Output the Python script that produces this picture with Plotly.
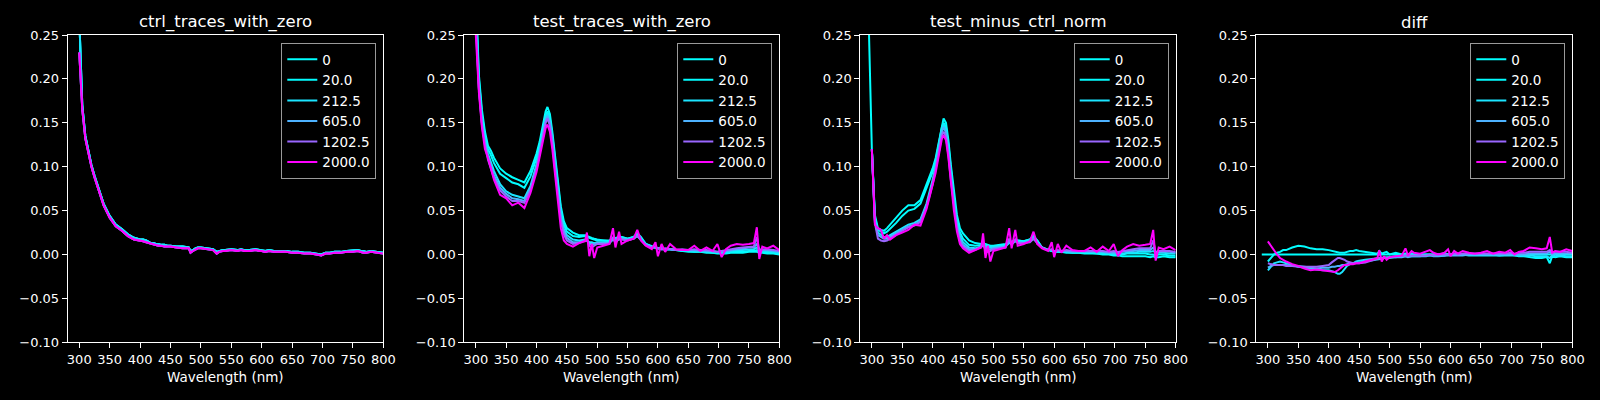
import plotly.graph_objects as go
from plotly.subplots import make_subplots

# wavelength grid (nm) shared by all panels
WL = [290, 295, 300, 305, 310, 315, 320, 325, 330, 340,
      350, 360, 370, 380, 390, 400, 405, 410, 415, 418,
      422, 426, 430, 435, 440, 445, 450, 460, 470, 480,
      483, 487, 491, 495, 500, 510, 520, 526, 530, 536,
      540, 550, 560, 566, 572, 580, 590, 596, 600, 606,
      612, 620, 630, 640, 650, 660, 670, 680, 690, 698,
      705, 712, 720, 730, 740, 750, 758, 763, 767, 772,
      780, 790, 800]

LABELS = ["0", "20.0", "212.5", "605.0", "1202.5", "2000.0"]
# matplotlib "cool" colormap sampled at concentration / 2000
COLORS = ["#00ffff", "#03fcff", "#1be4ff", "#4db2ff", "#9966ff", "#ff00ff"]
TITLES = ["ctrl_traces_with_zero", "test_traces_with_zero",
          "test_minus_ctrl_norm", "diff"]

# ctrl traces (low concentrations / high concentrations nearly overlap)
CTRL_HI = [None, None, 0.27, 0.170, 0.135, 0.118, 0.102, 0.090, 0.079, 0.058,
           0.044, 0.034, 0.029, 0.023, 0.019, 0.017, 0.017, 0.016, 0.014, 0.013,
           0.013, 0.012, 0.012, 0.011, 0.011, 0.010, 0.010, 0.009, 0.009, 0.008,
           0.004, 0.005, 0.007, 0.008, 0.008, 0.007, 0.006, 0.003, 0.004, 0.005,
           0.005, 0.006, 0.005, 0.006, 0.005, 0.005, 0.006, 0.005, 0.005, 0.004,
           0.005, 0.004, 0.004, 0.004, 0.003, 0.003, 0.002, 0.002, 0.001, 0.000,
           0.002, 0.002, 0.003, 0.003, 0.004, 0.005, 0.005, 0.004, 0.004, 0.003,
           0.004, 0.003, 0.002]
CTRL_LO = [None, None, 0.230, 0.165, 0.132, 0.115, 0.100, 0.088, 0.077, 0.056,
           0.042, 0.032, 0.027, 0.021, 0.017, 0.016, 0.015, 0.014, 0.013, 0.012,
           0.011, 0.011, 0.010, 0.010, 0.009, 0.009, 0.009, 0.008, 0.007, 0.007,
           0.002, 0.004, 0.006, 0.007, 0.007, 0.006, 0.005, 0.001, 0.003, 0.004,
           0.004, 0.005, 0.004, 0.005, 0.004, 0.004, 0.005, 0.004, 0.004, 0.003,
           0.004, 0.003, 0.003, 0.003, 0.002, 0.002, 0.001, 0.001, 0.000, -0.001,
           0.001, 0.001, 0.002, 0.002, 0.003, 0.003, 0.004, 0.003, 0.002, 0.002,
           0.003, 0.002, 0.001]

# test traces
TEST_0 = [None, None, 0.30, 0.205, 0.165, 0.140, 0.124, 0.118, 0.110, 0.098,
          0.092, 0.088, 0.085, 0.082, 0.095, 0.115, 0.128, 0.145, 0.163, 0.168,
          0.160, 0.140, 0.115, 0.085, 0.055, 0.038, 0.030, 0.025, 0.022, 0.022,
          0.021, 0.020, 0.019, 0.018, 0.017, 0.016, 0.016, 0.018, 0.019, 0.020,
          0.020, 0.018, 0.020, 0.024, 0.020, 0.012, 0.009, 0.008, 0.007, 0.007,
          0.006, 0.006, 0.005, 0.004, 0.003, 0.003, 0.003, 0.002, 0.002, 0.001,
          0.001, 0.001, 0.002, 0.002, 0.002, 0.003, 0.003, 0.003, 0.002, 0.002,
          0.001, 0.001, 0.000]
TEST_20 = [None, None, 0.29, 0.200, 0.160, 0.136, 0.120, 0.113, 0.104, 0.092,
           0.087, 0.082, 0.080, 0.076, 0.089, 0.110, 0.124, 0.141, 0.159, 0.163,
           0.155, 0.136, 0.111, 0.081, 0.051, 0.034, 0.026, 0.021, 0.020, 0.021,
           0.020, 0.019, 0.018, 0.017, 0.016, 0.016, 0.015, 0.018, 0.018, 0.019,
           0.020, 0.018, 0.020, 0.023, 0.019, 0.012, 0.009, 0.008, 0.007, 0.007,
           0.006, 0.006, 0.005, 0.004, 0.004, 0.003, 0.003, 0.003, 0.002, 0.002,
           0.002, 0.002, 0.003, 0.003, 0.003, 0.004, 0.004, 0.005, 0.003, 0.003,
           0.002, 0.002, 0.001]
TEST_212 = [None, None, 0.28, 0.195, 0.155, 0.130, 0.115, 0.105, 0.095, 0.080,
            0.072, 0.068, 0.066, 0.064, 0.078, 0.103, 0.119, 0.138, 0.156, 0.160,
            0.152, 0.132, 0.106, 0.076, 0.045, 0.029, 0.022, 0.017, 0.016, 0.017,
            0.016, 0.014, 0.014, 0.013, 0.014, 0.014, 0.014, 0.017, 0.016, 0.018,
            0.019, 0.017, 0.019, 0.022, 0.018, 0.011, 0.008, 0.008, 0.007, 0.006,
            0.006, 0.006, 0.005, 0.005, 0.004, 0.004, 0.004, 0.003, 0.003, 0.003,
            0.003, 0.003, 0.004, 0.005, 0.005, 0.006, 0.006, 0.008, 0.005, 0.004,
            0.004, 0.003, 0.002]
TEST_605 = [None, None, 0.27, 0.190, 0.150, 0.127, 0.112, 0.100, 0.090, 0.076,
            0.069, 0.064, 0.063, 0.061, 0.075, 0.100, 0.116, 0.135, 0.153, 0.158,
            0.150, 0.130, 0.103, 0.073, 0.042, 0.026, 0.019, 0.014, 0.014, 0.016,
            0.016, 0.012, 0.012, 0.012, 0.013, 0.013, 0.013, 0.017, 0.015, 0.017,
            0.018, 0.017, 0.018, 0.021, 0.017, 0.011, 0.008, 0.008, 0.007, 0.006,
            0.006, 0.006, 0.005, 0.005, 0.005, 0.005, 0.004, 0.004, 0.004, 0.003,
            0.004, 0.004, 0.005, 0.006, 0.007, 0.008, 0.008, 0.012, 0.006, 0.005,
            0.005, 0.004, 0.003]
TEST_1202 = [None, None, 0.26, 0.188, 0.148, 0.125, 0.108, 0.097, 0.087, 0.073,
             0.066, 0.061, 0.061, 0.059, 0.073, 0.097, 0.113, 0.132, 0.150, 0.155,
             0.147, 0.127, 0.100, 0.070, 0.039, 0.023, 0.016, 0.012, 0.013, 0.016,
             0.018, 0.010, 0.008, 0.010, 0.012, 0.012, 0.012, 0.020, 0.013, 0.019,
             0.017, 0.016, 0.018, 0.021, 0.017, 0.011, 0.008, 0.009, 0.007, 0.006,
             0.007, 0.006, 0.005, 0.006, 0.005, 0.006, 0.005, 0.005, 0.004, 0.003,
             0.004, 0.005, 0.006, 0.007, 0.008, 0.009, 0.009, 0.020, 0.004, 0.006,
             0.006, 0.005, 0.004]
TEST_2000 = [None, None, 0.25, 0.185, 0.145, 0.120, 0.110, 0.098, 0.085, 0.068,
             0.064, 0.056, 0.059, 0.053, 0.070, 0.094, 0.110, 0.128, 0.144, 0.148,
             0.140, 0.120, 0.092, 0.062, 0.030, 0.016, 0.012, 0.009, 0.013, 0.015,
             0.025, -0.002, 0.012, -0.004, 0.008, 0.010, 0.012, 0.030, 0.008, 0.026,
             0.012, 0.016, 0.018, 0.028, 0.016, 0.010, 0.006, 0.014, -0.002, 0.012,
             0.003, 0.012, 0.006, 0.005, 0.005, 0.010, 0.004, 0.008, 0.004, 0.012,
             -0.003, 0.006, 0.010, 0.012, 0.011, 0.012, 0.013, 0.031, -0.005, 0.009,
             0.007, 0.010, 0.005]

# test minus ctrl, normalised
NORM_0 = [0.40, 0.27, 0.12, 0.045, 0.030, 0.028, 0.027, 0.030, 0.034, 0.042,
          0.050, 0.056, 0.056, 0.062, 0.080, 0.098, 0.110, 0.128, 0.148, 0.155,
          0.150, 0.130, 0.102, 0.070, 0.045, 0.030, 0.024, 0.016, 0.013, 0.012,
          0.012, 0.012, 0.011, 0.010, 0.010, 0.011, 0.012, 0.014, 0.015, 0.016,
          0.016, 0.015, 0.017, 0.021, 0.016, 0.008, 0.005, 0.004, 0.003, 0.003,
          0.003, 0.002, 0.002, 0.002, 0.001, 0.001, 0.001, 0.000, 0.000, -0.001,
          -0.001, -0.002, -0.002, -0.002, -0.002, -0.002, -0.003, -0.002, -0.003, -0.003,
          -0.002, -0.003, -0.003]
NORM_20 = [None, None, 0.12, 0.042, 0.028, 0.026, 0.024, 0.026, 0.029, 0.036,
           0.044, 0.050, 0.052, 0.058, 0.076, 0.094, 0.106, 0.124, 0.144, 0.150,
           0.145, 0.125, 0.097, 0.065, 0.040, 0.025, 0.018, 0.011, 0.010, 0.011,
           0.011, 0.011, 0.010, 0.009, 0.009, 0.010, 0.011, 0.014, 0.014, 0.016,
           0.016, 0.015, 0.017, 0.020, 0.016, 0.008, 0.005, 0.004, 0.004, 0.003,
           0.003, 0.003, 0.002, 0.002, 0.002, 0.002, 0.001, 0.001, 0.001, 0.000,
           0.000, 0.000, 0.001, 0.001, 0.001, 0.001, 0.000, 0.000, -0.001, 0.000,
           0.000, -0.001, -0.001]
NORM_212 = [None, None, 0.12, 0.040, 0.025, 0.022, 0.020, 0.020, 0.022, 0.026,
            0.030, 0.034, 0.036, 0.040, 0.058, 0.085, 0.102, 0.121, 0.142, 0.148,
            0.142, 0.121, 0.093, 0.061, 0.036, 0.021, 0.014, 0.008, 0.007, 0.009,
            0.010, 0.009, 0.008, 0.008, 0.008, 0.009, 0.010, 0.013, 0.013, 0.015,
            0.015, 0.014, 0.016, 0.019, 0.015, 0.008, 0.005, 0.005, 0.004, 0.004,
            0.004, 0.003, 0.003, 0.003, 0.003, 0.003, 0.002, 0.002, 0.002, 0.001,
            0.001, 0.001, 0.002, 0.002, 0.003, 0.003, 0.003, 0.004, 0.002, 0.002,
            0.002, 0.001, 0.001]
NORM_605 = [None, None, 0.12, 0.038, 0.022, 0.020, 0.018, 0.018, 0.020, 0.024,
            0.028, 0.032, 0.034, 0.038, 0.056, 0.082, 0.099, 0.118, 0.139, 0.145,
            0.139, 0.118, 0.090, 0.058, 0.033, 0.018, 0.011, 0.006, 0.006, 0.009,
            0.011, 0.007, 0.006, 0.006, 0.007, 0.008, 0.009, 0.014, 0.012, 0.015,
            0.014, 0.013, 0.015, 0.018, 0.014, 0.008, 0.005, 0.005, 0.004, 0.004,
            0.004, 0.004, 0.003, 0.003, 0.003, 0.003, 0.003, 0.003, 0.002, 0.002,
            0.002, 0.003, 0.004, 0.004, 0.005, 0.005, 0.005, 0.008, 0.003, 0.003,
            0.003, 0.003, 0.002]
NORM_1202 = [None, None, 0.12, 0.036, 0.018, 0.016, 0.015, 0.016, 0.018, 0.023,
             0.027, 0.031, 0.033, 0.037, 0.054, 0.080, 0.096, 0.115, 0.135, 0.140,
             0.134, 0.113, 0.085, 0.054, 0.030, 0.015, 0.009, 0.004, 0.005, 0.009,
             0.014, 0.004, 0.003, 0.004, 0.006, 0.007, 0.008, 0.018, 0.011, 0.017,
             0.013, 0.013, 0.014, 0.018, 0.013, 0.008, 0.005, 0.006, 0.003, 0.005,
             0.004, 0.005, 0.004, 0.004, 0.004, 0.004, 0.004, 0.004, 0.003, 0.004,
             0.003, 0.004, 0.005, 0.006, 0.007, 0.007, 0.007, 0.016, 0.002, 0.004,
             0.004, 0.004, 0.003]
NORM_2000 = [None, None, 0.12, 0.034, 0.030, 0.028, 0.018, 0.022, 0.017, 0.022,
             0.025, 0.028, 0.034, 0.033, 0.052, 0.078, 0.093, 0.112, 0.131, 0.136,
             0.130, 0.110, 0.082, 0.050, 0.026, 0.012, 0.007, 0.002, 0.005, 0.008,
             0.024, -0.004, 0.010, -0.008, 0.004, 0.006, 0.008, 0.030, 0.007, 0.028,
             0.010, 0.012, 0.015, 0.026, 0.012, 0.007, 0.004, 0.014, -0.003, 0.012,
             0.002, 0.010, 0.005, 0.004, 0.004, 0.008, 0.003, 0.009, 0.004, 0.012,
             -0.002, 0.005, 0.009, 0.012, 0.010, 0.011, 0.012, 0.028, -0.007, 0.008,
             0.006, 0.009, 0.005]

# diff traces
DIFF_0 = [0.0, 0.0, 0.0, 0.0, 0.0, 0.0, 0.0, 0.0, 0.0, 0.0,
          0.0, 0.0, 0.0, 0.0, 0.0, 0.0, 0.0, 0.0, 0.0, 0.0,
          0.0, 0.0, 0.0, 0.0, 0.0, 0.0, 0.0, 0.0, 0.0, 0.0,
          0.0, 0.0, 0.0, 0.0, 0.0, 0.0, 0.0, 0.0, 0.0, 0.0,
          0.0, 0.0, 0.0, 0.0, 0.0, 0.0, 0.0, 0.0, 0.0, 0.0,
          0.0, 0.0, 0.0, 0.0, 0.0, 0.0, 0.0, 0.0, 0.0, 0.0,
          0.0, 0.0, 0.0, 0.0, 0.0, 0.0, 0.0, 0.0, 0.0, 0.0,
          0.0, 0.0, 0.0]
DIFF_20 = [None, None, -0.008, -0.004, 0.000, 0.002, 0.003, 0.005, 0.005, 0.008,
           0.010, 0.009, 0.007, 0.006, 0.006, 0.005, 0.004, 0.003, 0.002, 0.002,
           0.002, 0.002, 0.003, 0.004, 0.004, 0.005, 0.004, 0.003, 0.002, 0.001,
           0.004, 0.001, 0.002, 0.003, 0.000, 0.002, 0.000, 0.001, 0.000, 0.001,
           0.000, 0.000, 0.000, 0.000, 0.000, 0.000, 0.001, 0.000, 0.000, 0.000,
           0.000, 0.000, 0.000, 0.000, 0.000, 0.000, 0.000, -0.001, 0.000, 0.000,
           -0.001, -0.002, -0.002, -0.003, -0.004, -0.004, -0.003, -0.010, -0.002, -0.003,
           -0.002, -0.003, -0.003]
DIFF_212 = [None, None, -0.018, -0.014, -0.010, -0.009, -0.008, -0.009, -0.010, -0.012,
            -0.014, -0.015, -0.016, -0.017, -0.018, -0.018, -0.019, -0.020, -0.022, -0.022,
            -0.020, -0.016, -0.013, -0.011, -0.010, -0.008, -0.007, -0.006, -0.005, -0.004,
            -0.004, -0.004, -0.003, -0.003, -0.003, -0.003, -0.002, -0.002, -0.002, -0.002,
            -0.002, -0.002, -0.001, -0.001, -0.001, -0.001, -0.001, 0.000, 0.000, 0.000,
            0.000, 0.000, -0.001, -0.001, -0.001, -0.001, -0.001, -0.001, -0.001, -0.001,
            -0.001, -0.001, -0.001, -0.001, -0.002, -0.002, -0.002, -0.004, -0.001, -0.002,
            -0.001, -0.002, -0.002]
DIFF_605 = [None, None, -0.015, -0.013, -0.012, -0.012, -0.012, -0.012, -0.012, -0.013,
            -0.013, -0.014, -0.015, -0.016, -0.015, -0.015, -0.014, -0.014, -0.013, -0.013,
            -0.012, -0.012, -0.011, -0.010, -0.010, -0.009, -0.009, -0.008, -0.007, -0.006,
            -0.005, -0.005, -0.004, -0.004, -0.004, -0.003, -0.003, -0.002, -0.003, -0.002,
            -0.002, -0.002, -0.002, -0.001, -0.002, -0.002, -0.001, -0.001, -0.001, -0.001,
            -0.001, -0.001, 0.000, 0.000, 0.000, 0.000, 0.000, 0.000, 0.000, 0.000,
            0.000, 0.000, 0.000, 0.001, 0.001, 0.001, 0.001, 0.003, 0.000, 0.001,
            0.001, 0.001, 0.001]
DIFF_1202 = [None, None, -0.010, -0.011, -0.012, -0.012, -0.012, -0.012, -0.013, -0.013,
             -0.014, -0.014, -0.014, -0.014, -0.013, -0.012, -0.009, -0.006, -0.004, -0.004,
             -0.005, -0.006, -0.008, -0.009, -0.010, -0.010, -0.010, -0.009, -0.007, -0.005,
             -0.004, -0.005, -0.004, -0.004, -0.003, -0.002, -0.002, -0.001, -0.002, -0.001,
             -0.001, -0.001, -0.001, 0.000, -0.001, 0.000, 0.000, 0.000, 0.000, 0.001,
             0.000, 0.001, 0.001, 0.001, 0.001, 0.001, 0.001, 0.001, 0.001, 0.002,
             0.001, 0.002, 0.002, 0.003, 0.003, 0.003, 0.003, 0.005, 0.002, 0.003,
             0.003, 0.003, 0.002]
DIFF_2000 = [None, None, 0.015, 0.010, 0.004, 0.000, -0.004, -0.006, -0.008, -0.011,
             -0.013, -0.016, -0.018, -0.017, -0.018, -0.019, -0.019, -0.020, -0.018, -0.016,
             -0.014, -0.012, -0.012, -0.011, -0.011, -0.010, -0.010, -0.008, -0.006, -0.004,
             0.005, -0.008, -0.002, -0.006, -0.003, -0.002, -0.001, 0.007, -0.001, 0.004,
             0.002, 0.001, 0.003, 0.005, 0.002, 0.000, 0.002, 0.006, -0.002, 0.004,
             0.001, 0.004, 0.002, 0.001, 0.002, 0.004, 0.001, 0.003, 0.002, 0.005,
             0.000, 0.003, 0.004, 0.008, 0.007, 0.006, 0.007, 0.020, 0.002, 0.004,
             0.003, 0.006, 0.004]

PANELS = [
    [CTRL_HI, CTRL_HI, CTRL_HI, CTRL_LO, CTRL_LO, CTRL_LO],
    [TEST_0, TEST_20, TEST_212, TEST_605, TEST_1202, TEST_2000],
    [NORM_0, NORM_20, NORM_212, NORM_605, NORM_1202, NORM_2000],
    [DIFF_0, DIFF_20, DIFF_212, DIFF_605, DIFF_1202, DIFF_2000],
]

W, H = 1600, 400
FONT = "DejaVu Sans"
# plot area edges in pixels (left, right) and (top, bottom)
X_EDGES = [(67.7, 383.3), (464.3, 779.3), (860.3, 1175.7), (1256.3, 1572.3)]
Y_TOP, Y_BOT = 35.0, 342.3
TITLE_Y, XLABEL_Y, LEGEND_TOP = 22.0, 377.0, 43.0

fig = make_subplots(rows=1, cols=4)

for p, series in enumerate(PANELS):
    legend_id = "legend" if p == 0 else f"legend{p + 1}"
    for i, ys in enumerate(series):
        fig.add_trace(go.Scatter(
            x=WL, y=ys, mode="lines", name=LABELS[i],
            line=dict(color=COLORS[i], width=2),
            legend=legend_id, connectgaps=False,
        ), row=1, col=p + 1)

y_top_paper = 1 - Y_TOP / H
y_bot_paper = 1 - Y_BOT / H

axis_style = dict(
    showline=True, mirror=True, linecolor="white", linewidth=1,
    ticks="outside", ticklen=5, tickcolor="white", tickwidth=1,
    showgrid=False, zeroline=False, automargin=False,
    tickfont=dict(family=FONT, size=13, color="white"),
)

annotations = []
legends = {}
for p, (x0, x1) in enumerate(X_EDGES):
    sfx = "" if p == 0 else str(p + 1)
    fig.layout["xaxis" + sfx].update(
        domain=[x0 / W, x1 / W], range=[281, 800],
        tickvals=list(range(300, 801, 50)), **axis_style)
    fig.layout["yaxis" + sfx].update(
        domain=[y_bot_paper, y_top_paper], range=[-0.10, 0.25],
        tickvals=[-0.10, -0.05, 0.0, 0.05, 0.10, 0.15, 0.20, 0.25],
        ticktext=["\u22120.10", "\u22120.05", "0.00", "0.05", "0.10", "0.15", "0.20", "0.25"],
        **axis_style)
    cx = (x0 + x1) / 2 / W
    annotations.append(dict(
        text=TITLES[p], x=cx, y=1 - TITLE_Y / H, xref="paper", yref="paper",
        xanchor="center", yanchor="middle", showarrow=False,
        font=dict(family=FONT, size=16.5, color="white")))
    annotations.append(dict(
        text="Wavelength (nm)", x=cx, y=1 - XLABEL_Y / H, xref="paper", yref="paper",
        xanchor="center", yanchor="middle", showarrow=False,
        font=dict(family=FONT, size=13.5, color="white")))
    legends["legend" if p == 0 else f"legend{p + 1}"] = dict(
        x=(x1 - 7) / W, y=1 - LEGEND_TOP / H, xanchor="right", yanchor="top",
        xref="paper", yref="paper",
        bgcolor="black", bordercolor="#9a9a9a", borderwidth=1,
        font=dict(family=FONT, size=13.5, color="white"),
        itemwidth=30, tracegroupgap=0,
    )

fig.update_layout(
    width=W, height=H,
    margin=dict(l=0, r=0, t=0, b=0),
    paper_bgcolor="black", plot_bgcolor="black",
    showlegend=True,
    annotations=annotations,
    **legends,
)

# no page margin, no scrollbars: the figure fills the window exactly
page_css = ("document.documentElement.style.margin='0';"
            "document.documentElement.style.overflow='hidden';"
            "document.body.style.margin='0';"
            "document.body.style.overflow='hidden';"
            "document.body.style.background='black';")
fig.write_html("out.html", post_script=page_css,
               config={"displayModeBar": False})
